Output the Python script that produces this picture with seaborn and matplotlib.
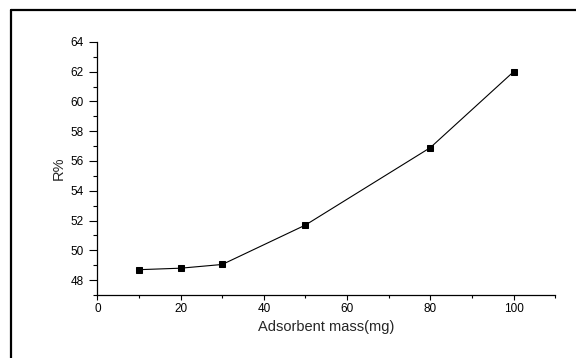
import matplotlib
matplotlib.use("Agg")
import matplotlib.pyplot as plt
from matplotlib.lines import Line2D
from matplotlib.ticker import MultipleLocator
import seaborn as sns
import pandas as pd

# Removal efficiency vs. adsorbent dose
mass_mg = [10, 20, 30, 50, 80, 100]
removal_pct = [48.7, 48.8, 49.05, 51.7, 56.9, 62.0]

sns.set_theme(style="ticks")
plt.rcParams["font.family"] = ["Liberation Sans", "DejaVu Sans"]

df = pd.DataFrame({"mass": mass_mg, "R": removal_pct})

fig = plt.figure(figsize=(5.76, 3.58), dpi=100)
ax = fig.add_axes([0.169, 0.176, 0.795, 0.707])

sns.lineplot(data=df, x="mass", y="R", ax=ax, color="black", linewidth=0.8,
             marker="s", markersize=5, markeredgecolor="black",
             markerfacecolor="black")

ax.set_xlim(0, 110)
ax.set_ylim(47, 64)
ax.xaxis.set_major_locator(MultipleLocator(20))
ax.xaxis.set_minor_locator(MultipleLocator(10))
ax.yaxis.set_major_locator(MultipleLocator(2))
ax.yaxis.set_minor_locator(MultipleLocator(1))
ax.tick_params(which="both", direction="out", width=0.8, colors="black",
               labelsize=8.5)
ax.tick_params(axis="x", which="major", length=3.6, pad=2)
ax.tick_params(axis="x", which="minor", length=2)
ax.tick_params(axis="y", which="major", length=6, pad=4)
ax.tick_params(axis="y", which="minor", length=3)

for side in ("top", "right"):
    ax.spines[side].set_visible(False)
for side in ("left", "bottom"):
    ax.spines[side].set_linewidth(0.9)
    ax.spines[side].set_color("black")

ax.set_xlabel("Adsorbent mass(mg)", fontsize=10.5, labelpad=4)
ax.set_ylabel("R%", fontsize=10.5, labelpad=3)

# frame lines along the top and left edges of the figure
fig.add_artist(Line2D([11 / 576, 1.0], [1 - 10 / 358, 1 - 10 / 358],
                      transform=fig.transFigure, color="black", linewidth=1.6))
fig.add_artist(Line2D([11 / 576, 11 / 576], [0.0, 1 - 10 / 358],
                      transform=fig.transFigure, color="black", linewidth=1.6))

fig.savefig("out.png", dpi=100)
